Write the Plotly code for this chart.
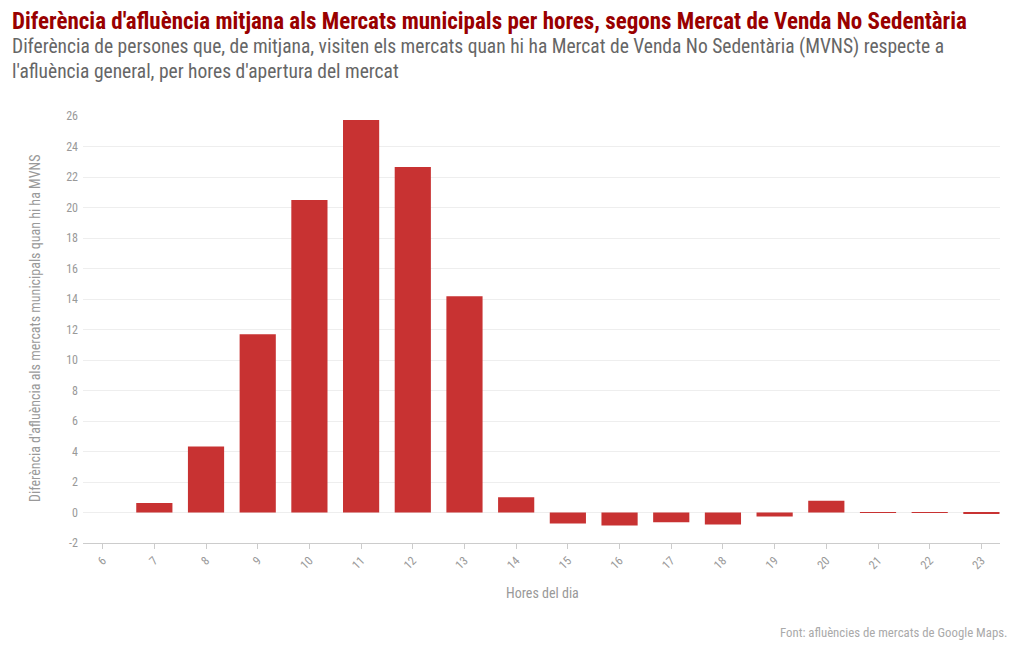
import plotly.graph_objects as go

hours = [6, 7, 8, 9, 10, 11, 12, 13, 14, 15, 16, 17, 18, 19, 20, 21, 22, 23]
diff = [0.0, 0.63, 4.33, 11.69, 20.49, 25.74, 22.65, 14.18, 1.0, -0.72, -0.85, -0.64, -0.79, -0.26, 0.77, 0.03, 0.03, -0.06]
y_ticks = list(range(-2, 27, 2))

title = "Diferència d'afluència mitjana als Mercats municipals per hores, segons Mercat de Venda No Sedentària"
subtitle = ("Diferència de persones que, de mitjana, visiten els mercats quan hi ha Mercat de Venda No Sedentària (MVNS) respecte a<br>"
            "l'afluència general, per hores d'apertura del mercat")
x_title = "Hores del dia"
y_title = "Diferència d'afluència als mercats municipals quan hi ha MVNS"
source = "Font: afluències de mercats de Google Maps."

FONT = "Roboto Condensed, Roboto, sans-serif"

W, H = 1020, 650
ML, MR, MT, MB = 75, 28, 108, 115
plot_w = W - ML - MR
plot_h = H - MT - MB

def px(xp):
    return (xp - ML) / plot_w

def py(yp):
    return (H - MB - yp) / plot_h

fig = go.Figure(go.Bar(
    x=hours, y=diff, width=0.7,
    marker=dict(color="#c83232", line=dict(width=0)),
))

fig.update_layout(
    width=W, height=H,
    margin=dict(l=ML, r=MR, t=MT, b=MB),
    paper_bgcolor="white", plot_bgcolor="white",
    font=dict(family=FONT, color="#999999"),
    showlegend=False,
    annotations=[
        dict(text="<b>" + title + "</b>", x=px(2), y=py(14), xref="paper", yref="paper",
             showarrow=False, font=dict(size=23, color="#990000", family=FONT),
             xanchor="left", yanchor="middle"),
        dict(text=subtitle, x=px(2), y=py(51), xref="paper", yref="paper",
             showarrow=False, font=dict(size=19.5, color="#666666", family=FONT),
             xanchor="left", yanchor="middle", align="left"),
        dict(text=source, x=px(1001), y=py(624), xref="paper", yref="paper",
             showarrow=False, font=dict(size=12.8, color="#aaaaaa", family=FONT),
             xanchor="right", yanchor="middle"),
        dict(text=y_title, x=px(27), y=py(321), xref="paper", yref="paper",
             showarrow=False, font=dict(size=14, color="#999999", family=FONT),
             textangle=-90, xanchor="center", yanchor="middle"),
        dict(text=x_title, x=px(534), y=py(585), xref="paper", yref="paper",
             showarrow=False, font=dict(size=14, color="#999999", family=FONT),
             xanchor="center", yanchor="middle"),
    ],
)

fig.update_xaxes(
    range=[5.62, 23.36], tickmode="array", tickvals=hours, ticktext=[str(h) for h in hours],
    tickangle=-45, tickfont=dict(size=12, color="#999999"),
    showgrid=False, zeroline=False,
    showline=True, linecolor="#cccccc", linewidth=1,
    ticks="outside", ticklen=5, tickcolor="#cccccc",
)
fig.update_yaxes(
    range=[-2, 26], tickmode="array", tickvals=y_ticks, ticktext=[str(v) for v in y_ticks],
    tickfont=dict(size=12, color="#999999"),
    showgrid=True, gridcolor="#eeeeee", gridwidth=1,
    zeroline=True, zerolinecolor="#eeeeee", zerolinewidth=1,
    showline=False, ticks="", ticklabelstandoff=4,
)

fig.write_html("out.html")
